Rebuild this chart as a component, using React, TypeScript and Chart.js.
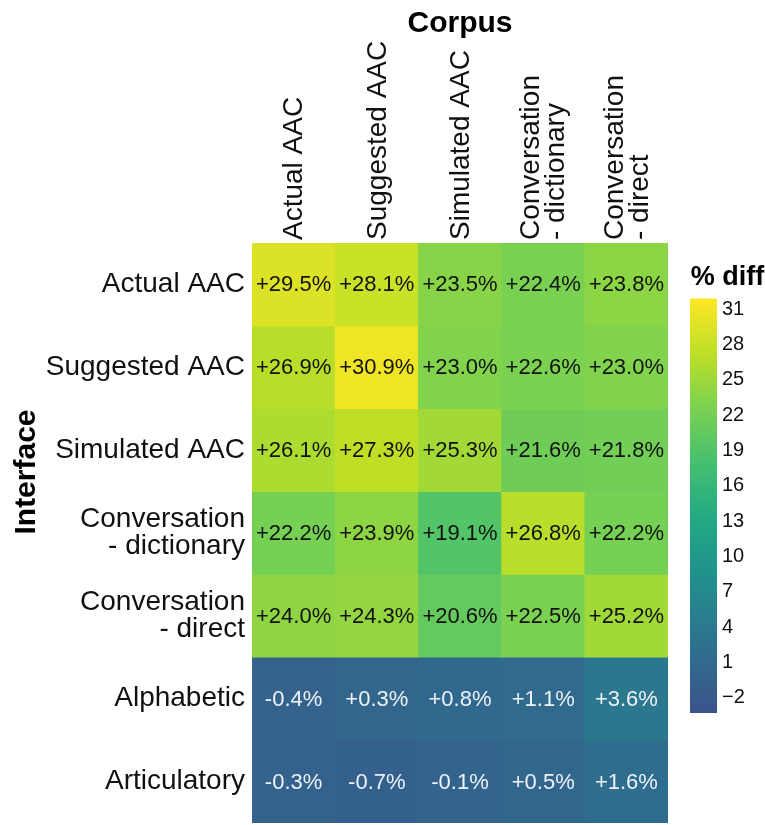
import { useEffect, useRef } from 'react';
import { Chart, registerables } from 'chart.js';

Chart.register(...registerables);

const FONT = '"Liberation Sans", Arial, Helvetica, sans-serif';

// Columns: corpus used for evaluation
const CORPORA: string[][] = [
  ['Actual AAC'],
  ['Suggested AAC'],
  ['Simulated AAC'],
  ['Conversation', '- dictionary'],
  ['Conversation', '- direct'],
];

// Rows: interface the language model was built for
const INTERFACES: string[][] = [
  ['Actual AAC'],
  ['Suggested AAC'],
  ['Simulated AAC'],
  ['Conversation', '- dictionary'],
  ['Conversation', '- direct'],
  ['Alphabetic'],
  ['Articulatory'],
];

// % diff per interface, one value per corpus column
const ACTUAL_AAC = [29.5, 28.1, 23.5, 22.4, 23.8];
const SUGGESTED_AAC = [26.9, 30.9, 23.0, 22.6, 23.0];
const SIMULATED_AAC = [26.1, 27.3, 25.3, 21.6, 21.8];
const CONV_DICTIONARY = [22.2, 23.9, 19.1, 26.8, 22.2];
const CONV_DIRECT = [24.0, 24.3, 20.6, 22.5, 25.2];
const ALPHABETIC = [-0.4, 0.3, 0.8, 1.1, 3.6];
const ARTICULATORY = [-0.3, -0.7, -0.1, 0.5, 1.6];

const ROW_VALUES = [
  ACTUAL_AAC,
  SUGGESTED_AAC,
  SIMULATED_AAC,
  CONV_DICTIONARY,
  CONV_DIRECT,
  ALPHABETIC,
  ARTICULATORY,
];

// Colour bar range and ticks
const CB_MIN = -3.3;
const CB_MAX = 31.9;
const CB_TICKS = [-2, 1, 4, 7, 10, 13, 16, 19, 22, 25, 28, 31];

// Viridis stops at t = 0, 0.1, ..., 1
const VIRIDIS = [
  '#440154', '#482475', '#414487', '#355f8d', '#2a788e', '#21918c',
  '#22a884', '#44bf70', '#7ad151', '#bddf26', '#fde725',
];

function hexToRgb(h: string): number[] {
  return [1, 3, 5].map((i) => parseInt(h.slice(i, i + 2), 16));
}

function viridis(t: number): string {
  const c = Math.min(1, Math.max(0, t)) * (VIRIDIS.length - 1);
  const i = Math.min(VIRIDIS.length - 2, Math.floor(c));
  const f = c - i;
  const a = hexToRgb(VIRIDIS[i]);
  const b = hexToRgb(VIRIDIS[i + 1]);
  const m = a.map((v, k) => Math.round(v + (b[k] - v) * f));
  return `rgb(${m[0]},${m[1]},${m[2]})`;
}

// The colour scale starts in the blue part of viridis
function colorFor(v: number): string {
  const u = (v - CB_MIN) / (CB_MAX - CB_MIN);
  return viridis(0.25 + 0.75 * u);
}

function fmtPct(v: number): string {
  return (v < 0 ? '-' : '+') + Math.abs(v).toFixed(1) + '%';
}

const cellLabels = {
  id: 'cellLabels',
  afterDatasetsDraw(chart: any) {
    const ctx = chart.ctx;
    ctx.save();
    ctx.font = `22px ${FONT}`;
    ctx.textAlign = 'center';
    ctx.textBaseline = 'middle';
    chart.data.datasets.forEach((ds: any, i: number) => {
      const meta = chart.getDatasetMeta(i);
      meta.data.forEach((el: any, j: number) => {
        const v = ds.values[j];
        const { x, y, base } = el.getProps(['x', 'y', 'base'], true);
        ctx.fillStyle = v < 10 ? '#eef2f6' : '#111111';
        ctx.fillText(fmtPct(v), x, (y + base) / 2 + 1);
      });
    });
    ctx.restore();
  },
};

// Column labels, rotated to read upwards and centred on each column
const columnLabels = {
  id: 'columnLabels',
  afterDraw(chart: any) {
    const xs = chart.scales.x;
    const top = chart.chartArea.top;
    const ctx = chart.ctx;
    const lh = 25;
    ctx.save();
    ctx.font = `28px ${FONT}`;
    ctx.fillStyle = '#111';
    ctx.textAlign = 'left';
    ctx.textBaseline = 'middle';
    CORPORA.forEach((lines, i) => {
      const px = xs.getPixelForTick(i);
      ctx.save();
      ctx.translate(px, top - 3);
      ctx.rotate(-Math.PI / 2);
      lines.forEach((line, k) => {
        ctx.fillText(line, 0, (k - (lines.length - 1) / 2) * lh + 1);
      });
      ctx.restore();
    });
    ctx.restore();
  },
};

const interfaceTitle = {
  id: 'interfaceTitle',
  afterDraw(chart: any) {
    const ctx = chart.ctx;
    ctx.save();
    ctx.translate(27, 472);
    ctx.rotate(-Math.PI / 2);
    ctx.font = `bold 30px ${FONT}`;
    ctx.fillStyle = '#000';
    ctx.textAlign = 'center';
    ctx.textBaseline = 'middle';
    ctx.fillText('Interface', 0, 0);
    ctx.restore();
  },
};

function noEdgePadding(s: any) {
  s.paddingTop = 0;
  s.paddingBottom = 0;
  s.paddingLeft = 0;
  s.paddingRight = 0;
}

export default function App() {
  const mainRef = useRef<HTMLCanvasElement>(null);
  const barRef = useRef<HTMLCanvasElement>(null);

  useEffect(() => {
    document.body.style.margin = '0';
    Chart.defaults.font.family = FONT;

    const datasets = ROW_VALUES.map((vals, r) => ({
      label: INTERFACES[r].join(' '),
      values: vals,
      data: vals.map(() => [r, r + 1]),
      backgroundColor: vals.map((v) => colorFor(v)),
      borderWidth: 0,
      barPercentage: 1,
      categoryPercentage: 1,
      grouped: false,
      xAxisID: 'x',
      yAxisID: 'y',
    }));

    const main = new Chart(mainRef.current!, {
      type: 'bar',
      data: { labels: CORPORA.map((l) => l.join(' ')), datasets: datasets as any },
      options: {
        animation: false,
        responsive: false,
        layout: { padding: { left: 0, top: 0, right: 97, bottom: 2 } },
        plugins: { legend: { display: false }, tooltip: { enabled: false } },
        scales: {
          x: {
            type: 'category',
            position: 'top',
            offset: true,
            grid: { display: false, drawTicks: false },
            border: { display: false },
            ticks: { display: false },
            title: {
              display: true,
              text: 'Corpus',
              color: '#000',
              font: { size: 30, weight: 'bold' },
              padding: { top: 6, bottom: 4 },
            },
            afterFit: (s: any) => {
              s.height = 243;
              noEdgePadding(s);
            },
          },
          y: {
            type: 'linear',
            min: 0,
            max: 7,
            reverse: true,
            display: false,
          },
          rows: {
            type: 'category',
            axis: 'y',
            position: 'left',
            labels: INTERFACES as any,
            offset: true,
            grid: { display: false, drawTicks: false },
            border: { display: false },
            ticks: {
              padding: 7,
              color: '#111',
              font: { size: 28, lineHeight: 0.97 },
            },
            afterFit: (s: any) => {
              s.width = 252;
              noEdgePadding(s);
            },
          },
        } as any,
      },
      plugins: [cellLabels, columnLabels, interfaceTitle],
    });

    const bar = new Chart(barRef.current!, {
      type: 'bar',
      data: {
        labels: [''],
        datasets: [
          {
            data: [[CB_MIN, CB_MAX]] as any,
            barPercentage: 1,
            categoryPercentage: 1,
            borderWidth: 0,
            backgroundColor: (c: any) => {
              const ch = c.chart;
              const s = ch.scales.y;
              const fallback = colorFor((CB_MIN + CB_MAX) / 2);
              if (!s) return fallback;
              const y0 = s.getPixelForValue(CB_MIN);
              const y1 = s.getPixelForValue(CB_MAX);
              if (!Number.isFinite(y0) || !Number.isFinite(y1) || y0 === y1) return fallback;
              const g = ch.ctx.createLinearGradient(0, y0, 0, y1);
              const n = 40;
              for (let k = 0; k <= n; k++) {
                g.addColorStop(k / n, colorFor(CB_MIN + ((CB_MAX - CB_MIN) * k) / n));
              }
              return g;
            },
          },
        ],
      },
      options: {
        animation: false,
        responsive: false,
        layout: { padding: { left: 10, right: 0, top: 0, bottom: 12 } },
        plugins: {
          legend: { display: false },
          tooltip: { enabled: false },
          title: {
            display: true,
            text: '% diff',
            color: '#000',
            font: { size: 27, weight: 'bold' },
            padding: { top: 11, bottom: 5 },
          },
        },
        scales: {
          x: { display: false },
          y: {
            position: 'right',
            min: CB_MIN,
            max: CB_MAX,
            grid: { display: false, drawTicks: false },
            border: { display: false },
            ticks: {
              padding: 5,
              color: '#111',
              font: { size: 20 },
              callback: (v: any) => (v < 0 ? '\u2212' + Math.abs(v) : String(v)),
            },
            afterBuildTicks: (s: any) => {
              s.ticks = CB_TICKS.map((v) => ({ value: v }));
            },
            afterFit: (s: any) => {
              s.width = 48;
              noEdgePadding(s);
            },
          },
        } as any,
      },
    });
    // Resolve the gradient again now that the scale has its final size
    bar.update('none');

    return () => {
      main.destroy();
      bar.destroy();
    };
  }, []);

  return (
    <div style={{ position: 'relative', width: 765, height: 825, background: '#fff' }}>
      <canvas
        ref={mainRef}
        width={765}
        height={825}
        style={{ position: 'absolute', left: 0, top: 0 }}
      />
      <canvas
        ref={barRef}
        width={85}
        height={475}
        style={{ position: 'absolute', left: 680, top: 250 }}
      />
    </div>
  );
}
